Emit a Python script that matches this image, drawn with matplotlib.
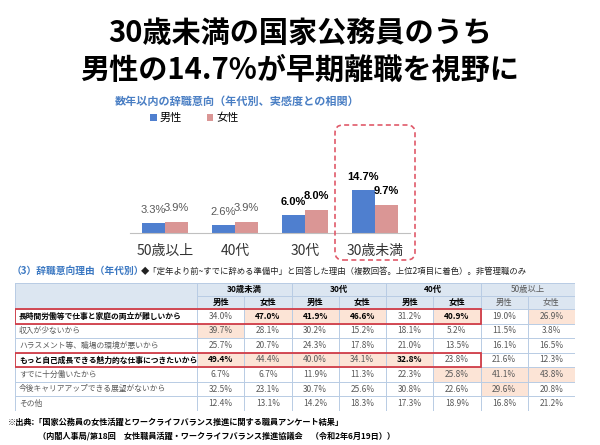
import numpy as np
import matplotlib
matplotlib.use("Agg")
import matplotlib.pyplot as plt
from matplotlib.patches import Rectangle, FancyBboxPatch

plt.rcParams['font.family'] = ['Noto Sans CJK JP', 'DejaVu Sans']

# bar chart data
ages = ["50歳以上", "40代", "30代", "30歳未満"]
male = [3.3, 2.6, 6.0, 14.7]
female = [3.9, 3.9, 8.0, 9.7]
bold_ages = [False, False, True, True]

# table data
groups = ["30歳未満", "30代", "40代", "50歳以上"]
sexes = ["男性", "女性"]
reasons = [
    "長時間労働等で仕事と家庭の両立が難しいから",
    "収入が少ないから",
    "ハラスメント等、職場の環境が悪いから",
    "もっと自己成長できる魅力的な仕事につきたいから",
    "すでに十分働いたから",
    "今後キャリアアップできる展望がないから",
    "その他",
]
u30_m = [34.0, 39.7, 25.7, 49.4, 6.7, 32.5, 12.4]
u30_f = [47.0, 28.1, 20.7, 44.4, 6.7, 23.1, 13.1]
s30_m = [41.9, 30.2, 24.3, 40.0, 11.9, 30.7, 14.2]
s30_f = [46.6, 15.2, 17.8, 34.1, 11.3, 25.6, 18.3]
s40_m = [31.2, 18.1, 21.0, 32.8, 22.3, 30.8, 17.3]
s40_f = [40.9, 5.2, 13.5, 23.8, 25.8, 22.6, 18.9]
s50_m = [19.0, 11.5, 16.1, 21.6, 41.1, 29.6, 16.8]
s50_f = [26.9, 3.8, 16.5, 12.3, 43.8, 20.8, 21.2]
# (row, col) of coloured / bold cells as in the original
colored = [(0, 1), (0, 2), (0, 3), (0, 5), (0, 7), (1, 0), (3, 0), (3, 1),
           (3, 2), (3, 3), (3, 4), (4, 5), (4, 6), (4, 7), (5, 6)]
bold_cells = [(0, 1), (0, 2), (0, 3), (0, 5), (3, 0), (3, 4)]
boxed_rows = [0, 3]

MALE_C = "#4f7fcf"
FEMALE_C = "#da9695"
GREY = "#595959"

W, H = 600, 445
fig = plt.figure(figsize=(6, 4.45), dpi=100)

def fx(x):
    return x / W

def fy(y):
    return 1 - y / H

# titles
fig.text(0.5, fy(33), "30歳未満の国家公務員のうち", ha="center", va="center",
         fontsize=21, fontweight="bold")
fig.text(0.5, fy(70), "男性の14.7%が早期離職を視野に", ha="center", va="center",
         fontsize=21, fontweight="bold")
fig.text(fx(237), fy(101), "数年以内の辞職意向（年代別、実感度との相関）",
         ha="center", va="center", fontsize=8, fontweight="bold", color="#4a7fc4")

# bar chart
ax = fig.add_axes([fx(130), fy(233), fx(280), 93 / H])
x = np.arange(len(ages))
bw = 0.33
bm = ax.bar(x - bw / 2, male, bw, color=MALE_C, label="男性")
bf = ax.bar(x + bw / 2, female, bw, color=FEMALE_C, label="女性")
ax.set_xlim(-0.5, 3.5)
ax.set_ylim(0, 93 / 2.93)
for s in ["top", "left", "right"]:
    ax.spines[s].set_visible(False)
ax.spines["bottom"].set_color("#c0c0c0")
ax.set_yticks([])
ax.set_xticks(x)
ax.set_xticklabels(ages, fontsize=10, color="#333333")
ax.tick_params(axis="x", length=0, pad=8)
for i in range(len(ages)):
    for xv, v in [(x[i] - bw / 2, male[i]), (x[i] + bw / 2, female[i])]:
        if bold_ages[i]:
            ax.annotate(f"{v:.1f}%", (xv, v), xytext=(0, 9.5), textcoords="offset points",
                        ha="center", va="center", fontsize=8, fontweight="bold",
                        family="Liberation Sans", color="black")
        else:
            ax.annotate(f"{v:.1f}%", (xv, v), xytext=(0, 9.5), textcoords="offset points",
                        ha="center", va="center", fontsize=8,
                        family="Liberation Sans", color=GREY)
ax.legend(loc="center left", bbox_to_anchor=(fx(140), fy(118)),
          bbox_transform=fig.transFigure, ncol=2, frameon=False, fontsize=8,
          handlelength=0.6, handleheight=0.6, handletextpad=0.3, columnspacing=2.2)

box = FancyBboxPatch((3.35, 1.85), 0.80, 1.35,
                     boxstyle="round,pad=0,rounding_size=0.08",
                     transform=fig.dpi_scale_trans, fc="none", ec="#e05a6a",
                     lw=1.2, ls=(0, (3, 2)))
fig.add_artist(box)

# section heading
fig.text(fx(12), fy(271), "（3）辞職意向理由（年代別）", ha="left", va="center",
         fontsize=7, fontweight="bold", color="#3b78c2")
fig.text(fx(141), fy(271),
         "◆「定年より前~すでに辞める準備中」と回答した理由（複数回答。上位2項目に着色）。非管理職のみ",
         ha="left", va="center", fontsize=6, color="#222222")

# table
tx = fig.add_axes([fx(15), fy(411), fx(560), 128 / H])
tx.set_xlim(0, 560)
tx.set_ylim(128, 0)
tx.axis("off")
LABEL_W = 182
COL_W = (560 - LABEL_W) / 8
HEAD_H = 13
ROW_H = (128 - 2 * HEAD_H) / len(reasons)
LINE_C = "#b8cce4"

cols = [u30_m, u30_f, s30_m, s30_f, s40_m, s40_f, s50_m, s50_f]
tx.add_patch(Rectangle((0, 0), 560, 2 * HEAD_H, fc="#dce6f1", ec="none"))
for g, name in enumerate(groups):
    cx = LABEL_W + (2 * g + 1) * COL_W
    strong = g < 3
    tx.text(cx, HEAD_H / 2, name, ha="center", va="center", fontsize=6,
            fontweight="bold" if strong else "normal", color="black" if strong else GREY)
    for s, sx in enumerate(sexes):
        tx.text(LABEL_W + (2 * g + s + 0.5) * COL_W, HEAD_H * 1.5, sx, ha="center",
                va="center", fontsize=6, fontweight="bold" if strong else "normal",
                color="black" if strong else GREY)

for r, reason in enumerate(reasons):
    y0 = 2 * HEAD_H + r * ROW_H
    strong = r in boxed_rows
    tx.text(4, y0 + ROW_H / 2, reason, ha="left", va="center", fontsize=5.6,
            fontweight="bold" if strong else "normal",
            color="black" if strong else GREY)
    for c, col in enumerate(cols):
        x0 = LABEL_W + c * COL_W
        if (r, c) in colored:
            tx.add_patch(Rectangle((x0, y0), COL_W, ROW_H, fc="#fce4d6", ec="none"))
        b = (r, c) in bold_cells
        tx.text(x0 + COL_W / 2, y0 + ROW_H / 2, f"{col[r]:.1f}%", ha="center",
                va="center", fontsize=6, fontweight="bold" if b else "normal",
                color="black" if b else GREY)

# grid lines
for r in range(len(reasons) + 1):
    tx.plot([0, 560], [2 * HEAD_H + r * ROW_H] * 2, color=LINE_C, lw=0.7)
tx.plot([LABEL_W, 560], [HEAD_H, HEAD_H], color=LINE_C, lw=0.7)
tx.plot([0, 560], [0, 0], color=LINE_C, lw=0.7)
for c in range(9):
    xl = LABEL_W + c * COL_W
    top = 0 if c % 2 == 0 else HEAD_H
    tx.plot([xl, xl], [top, 128], color=LINE_C, lw=0.7)
tx.plot([0, 0], [0, 128], color=LINE_C, lw=0.7)
for r in boxed_rows:
    tx.add_patch(Rectangle((0, 2 * HEAD_H + r * ROW_H), LABEL_W + 6 * COL_W, ROW_H,
                           fc="none", ec="#d23c46", lw=1.3, zorder=5))

# source
fig.text(fx(8), fy(422),
         "※出典:「国家公務員の女性活躍とワークライフバランス推進に関する職員アンケート結果」",
         ha="left", va="center", fontsize=5.9, fontweight="bold")
fig.text(fx(38), fy(436),
         "（内閣人事局/第18回　女性職員活躍・ワークライフバランス推進協議会　（令和2年6月19日））",
         ha="left", va="center", fontsize=5.9, fontweight="bold")

fig.savefig("out.png", dpi=100)
